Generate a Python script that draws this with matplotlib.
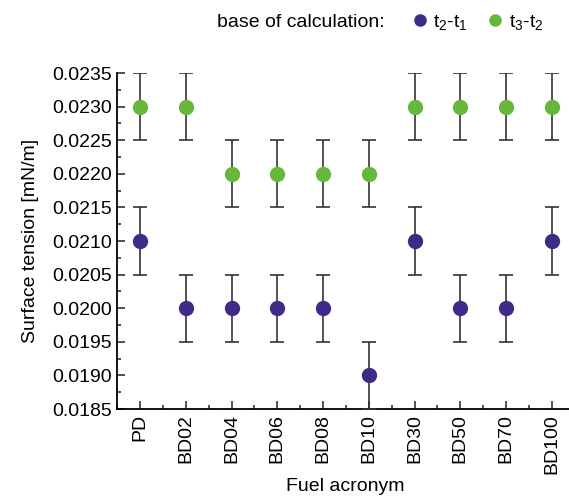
import matplotlib.pyplot as plt
import numpy as np
from matplotlib.ticker import MultipleLocator, AutoMinorLocator

plt.rcParams['font.family'] = ['Liberation Sans', 'DejaVu Sans']

fuels = ["PD", "BD02", "BD04", "BD06", "BD08", "BD10", "BD30", "BD50", "BD70", "BD100"]
st_21 = [0.0210, 0.0200, 0.0200, 0.0200, 0.0200, 0.0190, 0.0210, 0.0200, 0.0200, 0.0210]
st_32 = [0.0230, 0.0230, 0.0220, 0.0220, 0.0220, 0.0220, 0.0230, 0.0230, 0.0230, 0.0230]
err_21 = [0.0005] * 10
err_32 = [0.0005] * 10

fig = plt.figure(figsize=(5.69, 4.97), dpi=100)
ax = fig.add_axes([0.206, 0.177, 0.80, 0.676])

x = np.arange(len(fuels))
ax.errorbar(x, st_21, yerr=err_21, fmt='o', color='#3f2a88', ms=10,
            ecolor='#333333', elinewidth=1.2, capsize=5, capthick=1.2,
            label=r'$\mathregular{t_2}$-$\mathregular{t_1}$', zorder=3)
ax.errorbar(x, st_32, yerr=err_32, fmt='o', color='#66b83a', ms=10,
            ecolor='#333333', elinewidth=1.2, capsize=5, capthick=1.2,
            label=r'$\mathregular{t_3}$-$\mathregular{t_2}$', zorder=3)

ax.set_xlim(-0.5, 9.45)
ax.set_ylim(0.0185, 0.0235)
ax.set_xticks(x)
ax.set_xticklabels(fuels, rotation=90, fontsize=14)
ax.xaxis.set_minor_locator(MultipleLocator(0.5))
ax.yaxis.set_major_locator(MultipleLocator(0.0005))
ax.yaxis.set_minor_locator(AutoMinorLocator(2))
ax.yaxis.set_major_formatter(plt.FormatStrFormatter('%.4f'))
ax.tick_params(axis='y', labelsize=14)
ax.tick_params(which='both', direction='in', color='#333333', width=1.2)
ax.tick_params(which='major', length=6)
ax.tick_params(which='minor', length=3)
ax.spines['top'].set_visible(False)
ax.spines['right'].set_visible(False)
ax.spines['left'].set_linewidth(1.3)
ax.spines['bottom'].set_linewidth(1.3)
ax.set_ylabel("Surface tension [mN/m]", fontsize=14, labelpad=10)
ax.set_xlabel("Fuel acronym", fontsize=14, labelpad=3)

fig.text(0.381, 0.955, "base of calculation:", fontsize=14, va='center')
h, l = ax.get_legend_handles_labels()
h = [hh[0] for hh in h]
fig.legend(h, l, loc='center left', bbox_to_anchor=(0.69, 0.955), ncol=2,
           frameon=False, fontsize=14, handletextpad=0.2, columnspacing=0.9,
           handlelength=1.0, markerscale=0.8)

fig.savefig("out.png", dpi=100)
